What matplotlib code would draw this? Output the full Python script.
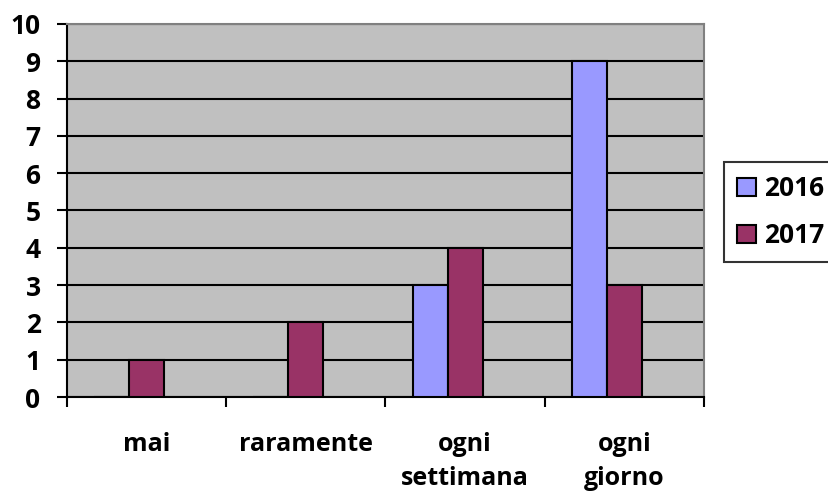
import numpy as np
import matplotlib.pyplot as plt

categories = ["mai", "raramente", "ogni\nsettimana", "ogni\ngiorno"]
val_2016 = [0, 0, 3, 9]
val_2017 = [1, 2, 4, 3]

plt.rcParams['font.family'] = ['Open Sans', 'DejaVu Sans']
plt.rcParams['font.weight'] = 'bold'

fig = plt.figure(figsize=(8.29, 4.99), dpi=100)
ax = fig.add_axes([67 / 829, 1 - 397 / 499, 637 / 829, 373 / 499])
ax.set_facecolor('#C0C0C0')

x = np.arange(len(categories))
w = 0.22
ax.bar(x - w, val_2016, w, color='#9999FF', edgecolor='black', linewidth=1.5, label='2016', zorder=3)
ax.bar(x, val_2017, w, color='#993366', edgecolor='black', linewidth=1.5, label='2017', zorder=3)

ax.set_xlim(-0.5, 3.5)
ax.set_ylim(0, 10)
ax.set_yticks(range(11))
ax.yaxis.grid(True, color='black', linewidth=1.5, zorder=1)
ax.set_axisbelow(True)

ax.set_xticks(np.arange(-0.5, 4, 1))
ax.set_xticklabels([])
ax.set_xticks(x, minor=True)
ax.set_xticklabels(categories, minor=True, fontsize=18, fontweight='bold', va='top', linespacing=1.5)
ax.tick_params(axis='x', which='minor', length=0, pad=25)
ax.tick_params(axis='x', which='major', length=7, width=1.5, direction='out')
ax.tick_params(axis='y', length=7, width=1.5, labelsize=19, pad=12)
for lab in ax.get_yticklabels():
    lab.set_fontweight('bold')

for s in ['left', 'bottom']:
    ax.spines[s].set_color('black')
    ax.spines[s].set_linewidth(1.5)
for s in ['top', 'right']:
    ax.spines[s].set_color('#808080')
    ax.spines[s].set_linewidth(1.5)

leg = fig.legend(loc='upper left', bbox_to_anchor=(724 / 829, 1 - 162 / 499),
                 fontsize=19, frameon=True, fancybox=False, edgecolor='black',
                 handlelength=0.7, handleheight=0.7, handletextpad=0.3,
                 borderpad=0.5, labelspacing=0.75, borderaxespad=0)
leg.get_frame().set_linewidth(1.5)
for t in leg.get_texts():
    t.set_fontweight('bold')

fig.savefig('out.png', dpi=100)
